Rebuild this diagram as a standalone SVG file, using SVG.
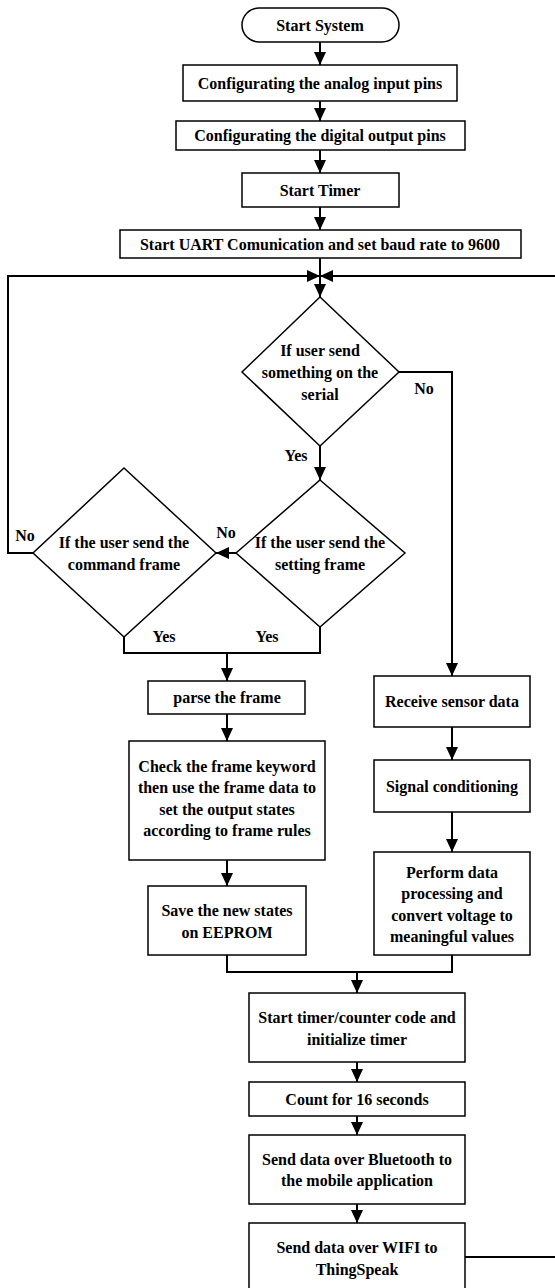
<svg xmlns="http://www.w3.org/2000/svg" width="555" height="1288" viewBox="0 0 555 1288">
<style>
.n{fill:#fff;stroke:#000;stroke-width:1.5}
.t{font-family:"Liberation Serif","Times New Roman",serif;font-weight:bold;font-size:16px;fill:#000;text-anchor:middle}
.c{fill:none;stroke:#000;stroke-width:2}
</style>
<defs>
<marker id="a" markerUnits="userSpaceOnUse" markerWidth="13" markerHeight="12" refX="13" refY="6" orient="auto">
<path d="M0,0 L13,6 L0,12 z" fill="#000"/>
</marker>
</defs>
<rect width="555" height="1288" fill="#fff"/>
<g id="connectors">
<path class="c" d="M320,42 V65" marker-end="url(#a)"/>
<path class="c" d="M320,101 V121" marker-end="url(#a)"/>
<path class="c" d="M320,150 V173" marker-end="url(#a)"/>
<path class="c" d="M320,207 V230" marker-end="url(#a)"/>
<path class="c" d="M320,258 V297" marker-end="url(#a)"/>
<path class="c" d="M33,553 H8 V276 H320" marker-end="url(#a)"/>
<path class="c" d="M465,1257 H562 V276 H320" marker-end="url(#a)"/>
<path class="c" d="M320,446 V480" marker-end="url(#a)"/>
<path class="c" d="M399,372 H452 V676" marker-end="url(#a)"/>
<path class="c" d="M236,553 H216" marker-end="url(#a)"/>
<path class="c" d="M320,627 V653 H124 V637"/>
<path class="c" d="M227,653 V681" marker-end="url(#a)"/>
<path class="c" d="M227,714 V741" marker-end="url(#a)"/>
<path class="c" d="M227,860 V886" marker-end="url(#a)"/>
<path class="c" d="M452,727 V760" marker-end="url(#a)"/>
<path class="c" d="M452,812 V852" marker-end="url(#a)"/>
<path class="c" d="M227,955 V972 H452 V955"/>
<path class="c" d="M357,972 V993" marker-end="url(#a)"/>
<path class="c" d="M357,1062 V1082" marker-end="url(#a)"/>
<path class="c" d="M357,1116 V1135" marker-end="url(#a)"/>
<path class="c" d="M357,1204 V1223" marker-end="url(#a)"/>
<text class="t" x="424" y="393.5">No</text>
<text class="t" x="296" y="460.5">Yes</text>
<text class="t" x="226" y="537.5">No</text>
<text class="t" x="25" y="540.5">No</text>
<text class="t" x="164" y="641.5">Yes</text>
<text class="t" x="267" y="641.5">Yes</text>
</g>
<g id="start">
<rect class="n" x="242" y="8" width="157" height="34" rx="17"/>
<text class="t" x="320" y="30.5">Start System</text>
</g>
<g id="analog">
<rect class="n" x="183" y="65" width="274" height="36"/>
<text class="t" x="320" y="88.5">Configurating the analog input pins</text>
</g>
<g id="digital">
<rect class="n" x="176" y="121" width="289" height="29"/>
<text class="t" x="320" y="141">Configurating the digital output pins</text>
</g>
<g id="timer">
<rect class="n" x="242" y="173" width="157" height="34"/>
<text class="t" x="320" y="195.5">Start Timer</text>
</g>
<g id="uart">
<rect class="n" x="120" y="230" width="401" height="28"/>
<text class="t" x="320" y="249.5">Start UART Comunication and set baud rate to 9600</text>
</g>
<g id="d1">
<polygon class="n" points="320,297 399,372 320,446 242,372"/>
<text class="t" x="320" y="355.5">If user send</text>
<text class="t" x="320" y="377.5">something on the</text>
<text class="t" x="320" y="399.5">serial</text>
</g>
<g id="d2">
<polygon class="n" points="320,480 405,553 320,627 236,553"/>
<text class="t" x="320" y="547.5">If the user send the</text>
<text class="t" x="320" y="569.5">setting frame</text>
</g>
<g id="d3">
<polygon class="n" points="124,468 216,553 124,637 33,553"/>
<text class="t" x="124" y="547.5">If the user send the</text>
<text class="t" x="124" y="569.5">command frame</text>
</g>
<g id="parse">
<rect class="n" x="148" y="681" width="157" height="33"/>
<text class="t" x="227" y="703">parse the frame</text>
</g>
<g id="check">
<rect class="n" x="129" y="741" width="196" height="119"/>
<text class="t" x="227" y="771.75">Check the frame keyword</text>
<text class="t" x="227" y="793.25">then use the frame data to</text>
<text class="t" x="227" y="814.75">set the output states</text>
<text class="t" x="227" y="836.25">according to frame rules</text>
</g>
<g id="save">
<rect class="n" x="148" y="886" width="158" height="69"/>
<text class="t" x="227" y="915.5">Save the new states</text>
<text class="t" x="227" y="937.5">on EEPROM</text>
</g>
<g id="receive">
<rect class="n" x="374" y="676" width="156" height="51"/>
<text class="t" x="452" y="707">Receive sensor data</text>
</g>
<g id="signal">
<rect class="n" x="374" y="760" width="156" height="52"/>
<text class="t" x="452" y="791.5">Signal conditioning</text>
</g>
<g id="perform">
<rect class="n" x="374" y="852" width="156" height="103"/>
<text class="t" x="452" y="877.5">Perform data</text>
<text class="t" x="452" y="899">processing and</text>
<text class="t" x="452" y="920.5">convert voltage to</text>
<text class="t" x="452" y="942">meaningful values</text>
</g>
<g id="counter">
<rect class="n" x="249" y="993" width="216" height="69"/>
<text class="t" x="357" y="1022.5">Start timer/counter code and</text>
<text class="t" x="357" y="1044.5">initialize timer</text>
</g>
<g id="count">
<rect class="n" x="249" y="1082" width="216" height="34"/>
<text class="t" x="357" y="1104.5">Count for 16 seconds</text>
</g>
<g id="bluetooth">
<rect class="n" x="249" y="1135" width="216" height="69"/>
<text class="t" x="357" y="1164.5">Send data over Bluetooth to</text>
<text class="t" x="357" y="1186">the mobile application</text>
</g>
<g id="wifi">
<rect class="n" x="249" y="1223" width="216" height="69"/>
<text class="t" x="357" y="1252.5">Send data over WIFI to</text>
<text class="t" x="357" y="1274.5">ThingSpeak</text>
</g>
</svg>
